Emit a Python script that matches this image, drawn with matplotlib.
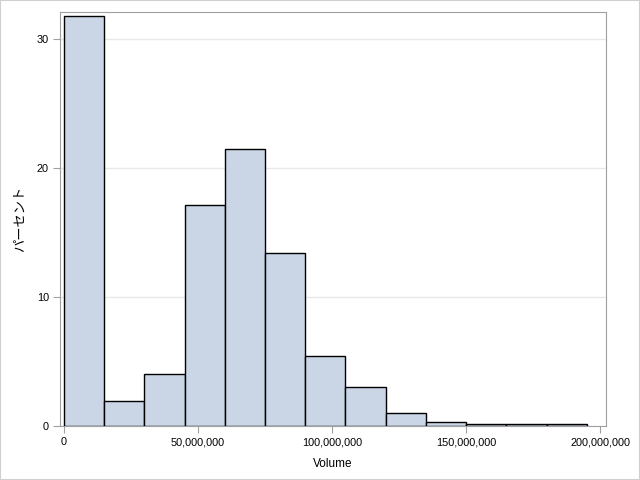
import matplotlib
matplotlib.use("Agg")
import matplotlib.pyplot as plt
from matplotlib.patches import Rectangle
from matplotlib.ticker import FuncFormatter

plt.rcParams['font.family'] = ['Liberation Sans', 'Noto Sans CJK JP', 'DejaVu Sans']

# histogram of Volume, bins of 15,000,000 starting at 0
bin_left = [0, 15e6, 30e6, 45e6, 60e6, 75e6, 90e6, 105e6, 120e6, 135e6, 150e6, 165e6, 180e6]
bin_width = 15e6
percent = [31.8, 1.97, 4.0, 17.15, 21.47, 13.42, 5.45, 3.0, 1.0, 0.3, 0.17, 0.17, 0.17]

x_ticks = [0, 50e6, 100e6, 150e6, 200e6]
y_ticks = [0, 10, 20, 30]

fig = plt.figure(figsize=(6.4, 4.8), dpi=100)
ax = fig.add_axes([60/640, 1 - 426/480, 545.5/640, 414/480])

ax.bar(bin_left, percent, width=bin_width, align='edge',
       color='#CAD5E5', edgecolor='black', linewidth=1.0, zorder=3)

ax.set_xlim(-1.5e6, 202e6)
ax.set_ylim(0, 32.1)
ax.set_xticks(x_ticks)
ax.set_yticks(y_ticks)
ax.xaxis.set_major_formatter(FuncFormatter(lambda v, p: f'{int(v):,}'))
ax.yaxis.grid(True, color='#E8E8E8', linewidth=1, zorder=0)
ax.set_axisbelow(True)

for s in ax.spines.values():
    s.set_color('#A0A0A0')
ax.tick_params(direction='out', length=5, color='#A0A0A0', labelsize=7.8,
               labelcolor='black', pad=3)

ax.set_xlabel('Volume', fontsize=8.5, labelpad=8)
ax.set_ylabel('パーセント', fontsize=9.5, labelpad=7)

fig.patches.append(Rectangle((0, 0), 1, 1, transform=fig.transFigure,
                             fill=False, edgecolor='#D0D0D0', linewidth=1.5))

fig.savefig('out.png', dpi=100)
